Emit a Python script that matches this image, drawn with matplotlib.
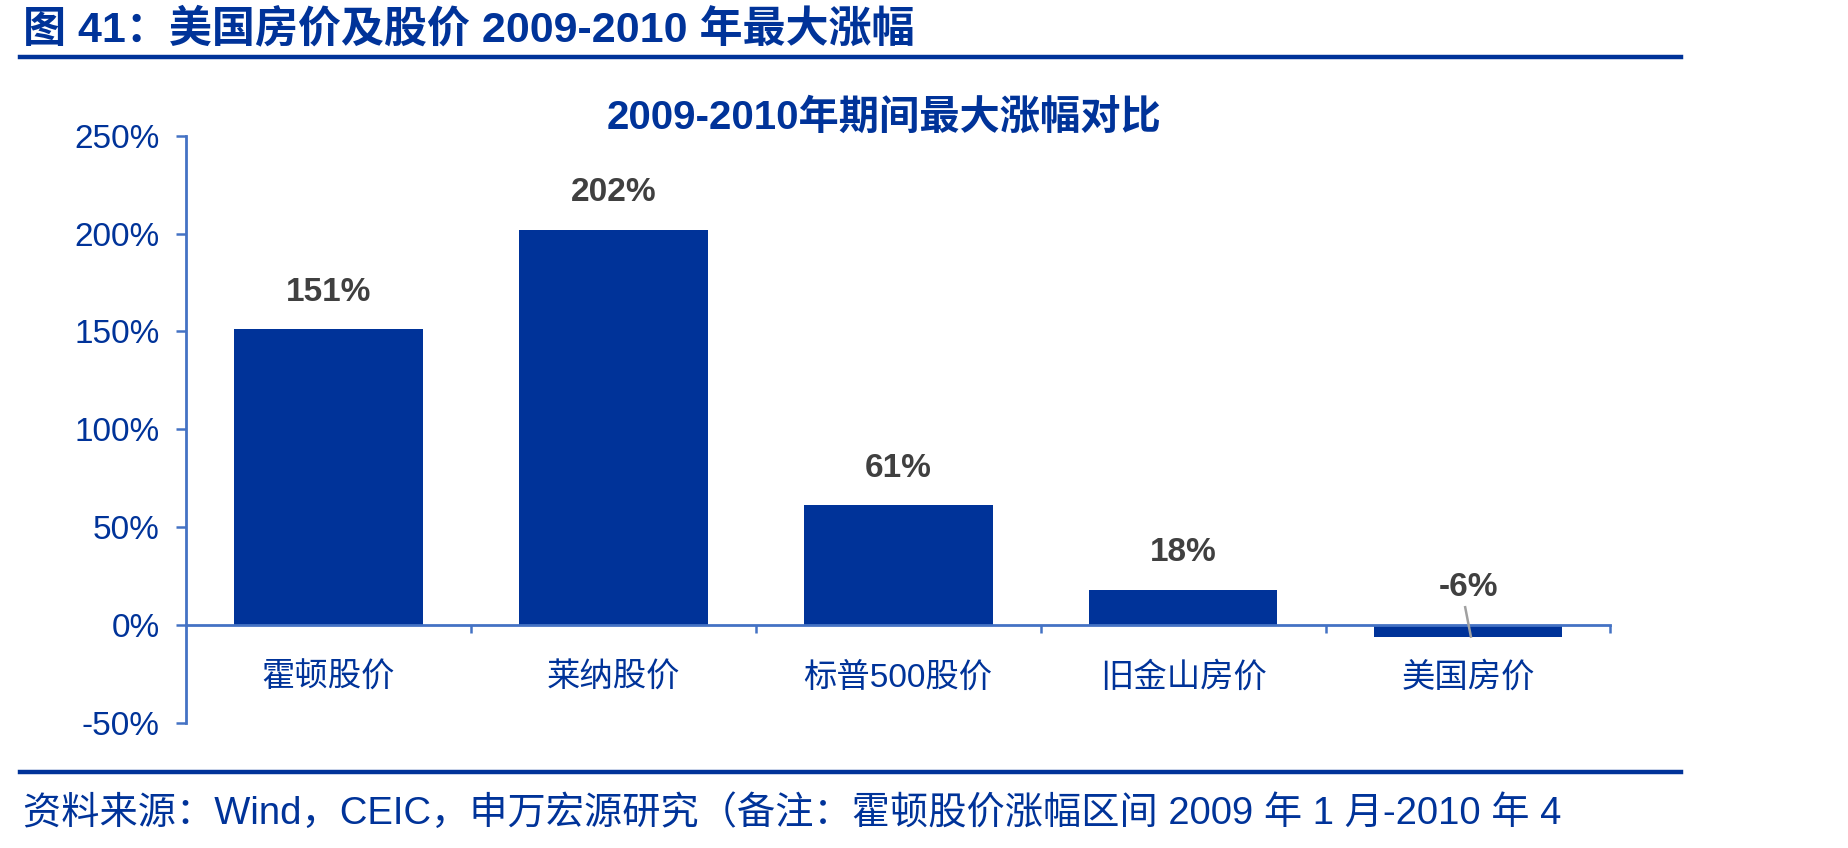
import matplotlib
matplotlib.use('Agg')
import matplotlib.pyplot as plt
from matplotlib.lines import Line2D

plt.rcParams['font.family'] = ['Liberation Sans', 'Noto Sans CJK SC']

# Data
categories = ['霍顿股价', '莱纳股价', '标普500股价', '旧金山房价', '美国房价']
gains = [151, 202, 61, 18, -6]
yticks = [-50, 0, 50, 100, 150, 200, 250]

bar_color = '#003399'
axis_color = '#4472C4'
text_blue = '#003399'
label_grey = '#404040'

fig = plt.figure(figsize=(18.49, 8.48), dpi=100)
ax = fig.add_axes([0.1006, 0.1478, 0.7704, 0.6922])

x = list(range(len(categories)))
ax.bar(x, gains, width=0.662, color=bar_color, zorder=2)

ax.set_xlim(-0.5, 4.5)
ax.set_ylim(-50, 250)
ax.set_yticks(yticks)
ax.set_yticklabels([f'{t}%' for t in yticks])
ax.tick_params(axis='y', direction='out', length=7, width=1.8, color=axis_color,
               labelcolor=text_blue, labelsize=24, pad=12)

# x ticks at category boundaries, labels drawn as text
ax.set_xticks([i + 0.5 for i in x])
ax.set_xticklabels([])
ax.tick_params(axis='x', direction='out', length=6, width=1.8, color=axis_color)

for s in ['top', 'right']:
    ax.spines[s].set_visible(False)
ax.spines['left'].set_color(axis_color)
ax.spines['left'].set_linewidth(2)
ax.spines['bottom'].set_position(('data', 0))
ax.spines['bottom'].set_color(axis_color)
ax.spines['bottom'].set_linewidth(2)

for i, c in enumerate(categories):
    ax.text(i, -27, c, ha='center', va='center', fontsize=24, color=text_blue)

# value labels
for i, v in enumerate(gains):
    ly = max(v, 0) + 19
    ax.text(i, ly, f'{v}%', ha='center', va='center', fontsize=24,
            fontweight='bold', color=label_grey)
    if v < 0:
        ax.plot([i - 0.01, i + 0.01], [9, v], color='#A0A0A0', lw=1.8, zorder=3)

# chart title
fig.text(0.478, 0.861, '2009-2010年期间最大涨幅对比', ha='center', va='center',
         fontsize=29, fontweight='bold', color=text_blue)

# header
fig.text(0.0125, 0.965, '图 41：美国房价及股价 2009-2010 年最大涨幅', ha='left', va='center',
         fontsize=31, fontweight='bold', color=text_blue)
fig.add_artist(Line2D([0.011, 0.909], [0.933, 0.933], transform=fig.transFigure,
                      color=text_blue, lw=3.2))

# footer
fig.add_artist(Line2D([0.011, 0.909], [0.0896, 0.0896], transform=fig.transFigure,
                      color=text_blue, lw=3.2))
fig.text(0.0125, 0.0407,
         '资料来源：Wind，CEIC，申万宏源研究（备注：霍顿股价涨幅区间 2009 年 1 月-2010 年 4',
         ha='left', va='center', fontsize=27.5, color=text_blue)

fig.savefig('out.png', dpi=100)
